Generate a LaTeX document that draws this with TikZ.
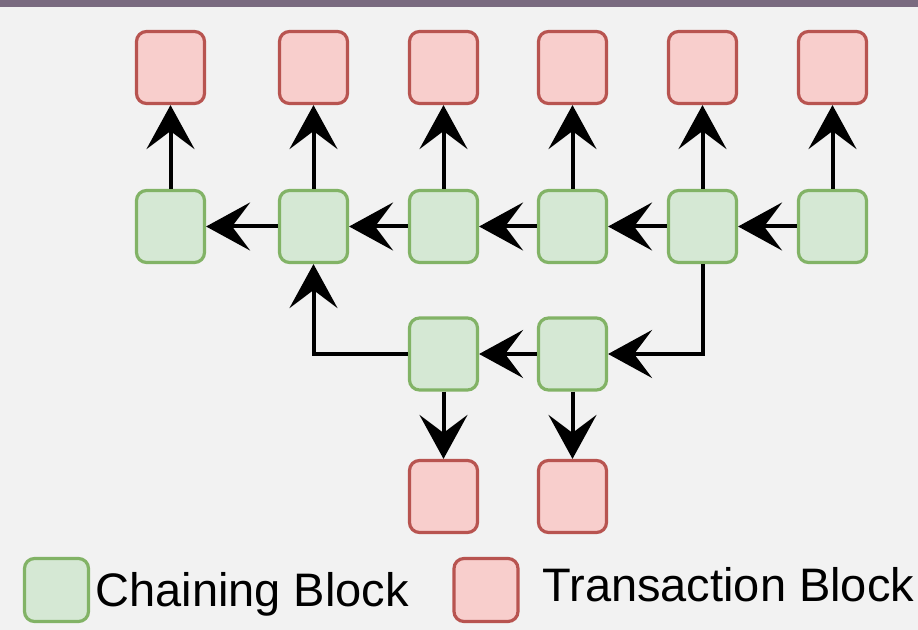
\documentclass[tikz,border=0pt]{standalone}
\usepackage{fontspec}
\setmainfont{Liberation Sans}
\usetikzlibrary{arrows.meta}

\definecolor{pagebg}{HTML}{F2F2F2}
\definecolor{topbar}{HTML}{7A6B80}
\definecolor{chainfill}{HTML}{D5E8D4}
\definecolor{chainline}{HTML}{82B366}
\definecolor{txfill}{HTML}{F8CECC}
\definecolor{txline}{HTML}{B85450}

\tikzset{
  block/.style={rectangle, rounded corners=5pt, line width=1.6pt,
    minimum width=34pt, minimum height=36pt, inner sep=0pt},
  chain/.style={block, draw=chainline, fill=chainfill},
  tx/.style={block, draw=txline, fill=txfill},
  legendbox/.style={minimum width=32pt, minimum height=31.5pt},
  link/.style={line width=2pt, line join=miter, draw=black,
    -{Stealth[length=22pt, width=24pt, inset=9pt]}},
  legendtext/.style={anchor=base west, inner sep=0pt,
    font=\fontsize{23.5pt}{28pt}\selectfont}
}

\begin{document}
\begin{tikzpicture}[x=0.5pt, y=-0.5pt]
  % canvas and title strip
  \fill[pagebg] (0,0) rectangle (918,630);
  \fill[topbar] (0,0) rectangle (918,7);
  \useasboundingbox (0,0) rectangle (918,630);

  % main chain
  \node[chain] (g1) at (170.5,226.5) {};
  \node[chain] (g2) at (313.5,226.5) {};
  \node[chain] (g3) at (443.5,226.5) {};
  \node[chain] (g4) at (572.5,226.5) {};
  \node[chain] (g5) at (702.5,226.5) {};
  \node[chain] (g6) at (832.5,226.5) {};

  % transactions of the main chain
  \node[tx] (r1) at (170.5,67.5) {};
  \node[tx] (r2) at (313.5,67.5) {};
  \node[tx] (r3) at (443.5,67.5) {};
  \node[tx] (r4) at (572.5,67.5) {};
  \node[tx] (r5) at (702.5,67.5) {};
  \node[tx] (r6) at (832.5,67.5) {};

  % side branch
  \node[chain] (b1) at (443.5,354) {};
  \node[chain] (b2) at (572.5,354) {};
  \node[tx] (s1) at (443.5,496.5) {};
  \node[tx] (s2) at (572.5,496.5) {};

  % chaining links
  \draw[link] (g2) -- (g1);
  \draw[link] (g3) -- (g2);
  \draw[link] (g4) -- (g3);
  \draw[link] (g5) -- (g4);
  \draw[link] (g6) -- (g5);
  \draw[link] (g5.south) |- (b2.east);
  \draw[link] (b2) -- (b1);
  \draw[link] (b1.west) -| (g2.south);

  % transaction links
  \foreach \i in {1,...,6} {
    \draw[link] (g\i) -- (r\i);
  }
  \draw[link] (b1) -- (s1);
  \draw[link] (b2) -- (s2);

  % legend
  \node[chain, legendbox] (lg) at (56.5,590) {};
  \node[legendtext] (lgt) at (95,607) {Chaining Block};
  \node[tx, legendbox] (lr) at (486,590) {};
  \node[legendtext] (lrt) at (542,602) {Transaction Block};
\end{tikzpicture}
\end{document}
